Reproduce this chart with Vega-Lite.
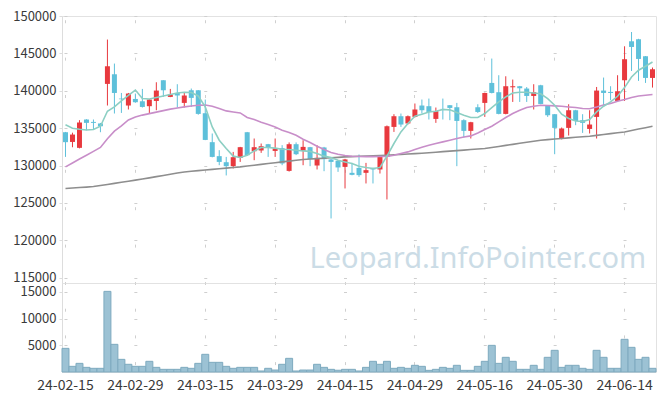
{
"$schema": "https://vega.github.io/schema/vega-lite/v6.json",
"background": "white",
"padding": {"left": 12, "top": 9, "right": 10, "bottom": 5},
"bounds": "flush",
"config": {"view": {"stroke": "#e2e2e2"}, "font": "Noto Sans CJK KR", "axis": {"labelFont": "Noto Sans CJK KR", "labelColor": "#3a3a3a", "gridColor": "#cfcfcf", "domainColor": "#dddddd", "tickColor": "#dddddd", "labelOverlap": false}},
"spacing": 0,
"resolve": {"scale": {"x": "independent", "y": "independent"}},
"data": {"values": [
{"d":"24-02-15","o":134460,"h":134500,"l":131160,"c":133130,"v":4430,"m5":135450,"m20":129830,"m60":126940},
{"d":"24-02-16","o":133160,"h":134400,"l":132450,"c":134150,"v":1060,"m5":135000,"m20":130350,"m60":127000},
{"d":"24-02-19","o":132370,"h":136070,"l":132300,"c":135760,"v":1620,"m5":134850,"m20":130870,"m60":127060},
{"d":"24-02-20","o":136160,"h":136200,"l":134730,"c":135710,"v":870,"m5":134750,"m20":131380,"m60":127120},
{"d":"24-02-21","o":135840,"h":136160,"l":134820,"c":135710,"v":690,"m5":134820,"m20":131900,"m60":127200},
{"d":"24-02-22","o":135630,"h":135700,"l":134460,"c":135260,"v":690,"m5":135260,"m20":132420,"m60":127340},
{"d":"24-02-23","o":140920,"h":146850,"l":138030,"c":143280,"v":15100,"m5":137270,"m20":133600,"m60":127480},
{"d":"24-02-26","o":142210,"h":143640,"l":136960,"c":139710,"v":5180,"m5":137840,"m20":134600,"m60":127620},
{"d":"24-02-27","o":138960,"h":139710,"l":137040,"c":138870,"v":2370,"m5":138640,"m20":135300,"m60":127760},
{"d":"24-02-28","o":138030,"h":139710,"l":137500,"c":139630,"v":1440,"m5":139400,"m20":136100,"m60":127900},
{"d":"24-02-29","o":138910,"h":139630,"l":138400,"c":138470,"v":1060,"m5":140100,"m20":136500,"m60":128050},
{"d":"24-03-04","o":138600,"h":140250,"l":137760,"c":137840,"v":1060,"m5":138960,"m20":136750,"m60":128200},
{"d":"24-03-05","o":137940,"h":138900,"l":136960,"c":138830,"v":2000,"m5":138900,"m20":136950,"m60":128360},
{"d":"24-03-06","o":138640,"h":141140,"l":137400,"c":140030,"v":870,"m5":139100,"m20":137150,"m60":128520},
{"d":"24-03-07","o":141410,"h":141410,"l":139180,"c":140070,"v":500,"m5":139310,"m20":137350,"m60":128680},
{"d":"24-03-08","o":139180,"h":140250,"l":139150,"c":139500,"v":500,"m5":139500,"m20":137550,"m60":128840},
{"d":"24-03-11","o":139710,"h":140880,"l":137760,"c":139370,"v":500,"m5":139710,"m20":137700,"m60":129000},
{"d":"24-03-12","o":138380,"h":139810,"l":137760,"c":139370,"v":870,"m5":139800,"m20":137850,"m60":129150},
{"d":"24-03-13","o":140070,"h":140300,"l":137840,"c":139050,"v":690,"m5":139770,"m20":137960,"m60":129240},
{"d":"24-03-14","o":140070,"h":140100,"l":136800,"c":136910,"v":1620,"m5":139310,"m20":138070,"m60":129320},
{"d":"24-03-15","o":137000,"h":138830,"l":133400,"c":133430,"v":3310,"m5":137840,"m20":138100,"m60":129410},
{"d":"24-03-18","o":133130,"h":134290,"l":131100,"c":131160,"v":1810,"m5":135170,"m20":137940,"m60":129490},
{"d":"24-03-19","o":131260,"h":132060,"l":130050,"c":130490,"v":1810,"m5":133390,"m20":137630,"m60":129580},
{"d":"24-03-20","o":130450,"h":131160,"l":128680,"c":129920,"v":1060,"m5":132290,"m20":137310,"m60":129660},
{"d":"24-03-21","o":129920,"h":131830,"l":129610,"c":131120,"v":690,"m5":131260,"m20":137170,"m60":129750},
{"d":"24-03-22","o":131030,"h":132500,"l":130490,"c":132460,"v":870,"m5":131080,"m20":137040,"m60":129830},
{"d":"24-03-25","o":134460,"h":134500,"l":131300,"c":131390,"v":870,"m5":131390,"m20":136430,"m60":129940},
{"d":"24-03-26","o":131920,"h":133620,"l":130720,"c":132460,"v":870,"m5":131960,"m20":136160,"m60":130050},
{"d":"24-03-27","o":132020,"h":132950,"l":131700,"c":132590,"v":190,"m5":132420,"m20":135800,"m60":130160},
{"d":"24-03-28","o":132860,"h":132900,"l":131160,"c":132420,"v":690,"m5":132420,"m20":135490,"m60":130270},
{"d":"24-03-29","o":131960,"h":133620,"l":131160,"c":132290,"v":370,"m5":132330,"m20":135170,"m60":130380},
{"d":"24-04-01","o":132330,"h":132730,"l":130050,"c":130280,"v":1440,"m5":132190,"m20":134730,"m60":130490},
{"d":"24-04-02","o":129290,"h":133100,"l":129200,"c":132860,"v":2560,"m5":132150,"m20":134420,"m60":130600},
{"d":"24-04-03","o":132860,"h":133100,"l":131400,"c":131520,"v":190,"m5":132060,"m20":134060,"m60":130710},
{"d":"24-04-04","o":131960,"h":133390,"l":130050,"c":132500,"v":370,"m5":131960,"m20":133530,"m60":130815},
{"d":"24-04-05","o":132460,"h":132500,"l":129920,"c":130860,"v":370,"m5":131900,"m20":133090,"m60":130870},
{"d":"24-04-08","o":130010,"h":132730,"l":129480,"c":131030,"v":1440,"m5":131620,"m20":132590,"m60":130930},
{"d":"24-04-09","o":132420,"h":132500,"l":129250,"c":130860,"v":870,"m5":131260,"m20":132150,"m60":130990},
{"d":"24-04-11","o":130820,"h":130900,"l":122930,"c":130490,"v":500,"m5":131080,"m20":131750,"m60":131050},
{"d":"24-04-12","o":130630,"h":130700,"l":129160,"c":129750,"v":330,"m5":130720,"m20":131520,"m60":131100},
{"d":"24-04-15","o":129830,"h":130900,"l":126940,"c":130820,"v":500,"m5":130490,"m20":131350,"m60":131160},
{"d":"24-04-16","o":129030,"h":130360,"l":128700,"c":128760,"v":500,"m5":130280,"m20":131250,"m60":131200},
{"d":"24-04-17","o":129690,"h":131480,"l":128490,"c":128720,"v":190,"m5":129920,"m20":131220,"m60":131240},
{"d":"24-04-18","o":129030,"h":130360,"l":127610,"c":129390,"v":870,"m5":129750,"m20":131200,"m60":131280},
{"d":"24-04-19","o":129690,"h":129700,"l":127610,"c":129480,"v":2000,"m5":129610,"m20":131200,"m60":131320},
{"d":"24-04-22","o":129480,"h":131390,"l":128940,"c":131260,"v":1440,"m5":129750,"m20":131210,"m60":131350},
{"d":"24-04-23","o":131160,"h":135360,"l":125470,"c":135260,"v":2000,"m5":131260,"m20":131230,"m60":131390},
{"d":"24-04-24","o":135170,"h":136870,"l":134500,"c":136600,"v":690,"m5":132950,"m20":131390,"m60":131440},
{"d":"24-04-25","o":136600,"h":136960,"l":135170,"c":135490,"v":870,"m5":134500,"m20":131620,"m60":131490},
{"d":"24-04-26","o":135630,"h":136700,"l":135500,"c":136600,"v":690,"m5":135630,"m20":131830,"m60":131550},
{"d":"24-04-29","o":136510,"h":138300,"l":136430,"c":137500,"v":1250,"m5":136600,"m20":132150,"m60":131600},
{"d":"24-04-30","o":138030,"h":138830,"l":136960,"c":137400,"v":1060,"m5":136850,"m20":132460,"m60":131650},
{"d":"24-05-02","o":137940,"h":138960,"l":136160,"c":137170,"v":310,"m5":137170,"m20":132730,"m60":131720},
{"d":"24-05-03","o":136240,"h":137760,"l":135710,"c":137270,"v":500,"m5":137270,"m20":132950,"m60":131790},
{"d":"24-05-07","o":137580,"h":138960,"l":136160,"c":137500,"v":870,"m5":137500,"m20":133170,"m60":131860},
{"d":"24-05-08","o":138070,"h":138100,"l":136070,"c":137710,"v":690,"m5":137450,"m20":133390,"m60":131930},
{"d":"24-05-09","o":137800,"h":138380,"l":129920,"c":135970,"v":1250,"m5":137090,"m20":133620,"m60":132000},
{"d":"24-05-10","o":136070,"h":136200,"l":133750,"c":134640,"v":310,"m5":136730,"m20":133830,"m60":132070},
{"d":"24-05-13","o":134640,"h":135850,"l":133620,"c":135800,"v":310,"m5":136430,"m20":133970,"m60":132140},
{"d":"24-05-14","o":137800,"h":138200,"l":137040,"c":137170,"v":1060,"m5":136430,"m20":134370,"m60":132210},
{"d":"24-05-16","o":138380,"h":139750,"l":136510,"c":139710,"v":2000,"m5":136960,"m20":134820,"m60":132285},
{"d":"24-05-17","o":141050,"h":144310,"l":139650,"c":139710,"v":4990,"m5":137760,"m20":135260,"m60":132420},
{"d":"24-05-20","o":139810,"h":142080,"l":136850,"c":136910,"v":1620,"m5":138510,"m20":135840,"m60":132560},
{"d":"24-05-21","o":136910,"h":141940,"l":136850,"c":140610,"v":2750,"m5":139180,"m20":136430,"m60":132700},
{"d":"24-05-22","o":140470,"h":141500,"l":138510,"c":140610,"v":2000,"m5":139710,"m20":136960,"m60":132840},
{"d":"24-05-23","o":140610,"h":140650,"l":138510,"c":140340,"v":500,"m5":139800,"m20":137400,"m60":132980},
{"d":"24-05-24","o":140300,"h":140500,"l":138510,"c":139310,"v":500,"m5":139800,"m20":137760,"m60":133120},
{"d":"24-05-27","o":139310,"h":140880,"l":137500,"c":139810,"v":1250,"m5":139710,"m20":137940,"m60":133250},
{"d":"24-05-28","o":140740,"h":140800,"l":138200,"c":138240,"v":500,"m5":139600,"m20":138070,"m60":133390},
{"d":"24-05-29","o":138070,"h":138100,"l":136510,"c":136730,"v":2750,"m5":138960,"m20":138030,"m60":133470},
{"d":"24-05-30","o":136870,"h":136900,"l":131520,"c":135040,"v":4060,"m5":138070,"m20":137980,"m60":133550},
{"d":"24-05-31","o":133570,"h":135090,"l":133500,"c":134960,"v":870,"m5":136870,"m20":137940,"m60":133620},
{"d":"24-06-03","o":135040,"h":138200,"l":134020,"c":137400,"v":1250,"m5":136290,"m20":137840,"m60":133700},
{"d":"24-06-04","o":137400,"h":137450,"l":135400,"c":135970,"v":1250,"m5":135970,"m20":137760,"m60":133780},
{"d":"24-06-05","o":136070,"h":136870,"l":134370,"c":135710,"v":690,"m5":135890,"m20":137630,"m60":133850},
{"d":"24-06-07","o":134900,"h":137400,"l":134290,"c":135490,"v":500,"m5":136160,"m20":137600,"m60":133930},
{"d":"24-06-10","o":136510,"h":140510,"l":133620,"c":140030,"v":4060,"m5":137170,"m20":137840,"m60":134040},
{"d":"24-06-11","o":140030,"h":141770,"l":138070,"c":139710,"v":2750,"m5":137940,"m20":138110,"m60":134160},
{"d":"24-06-12","o":139850,"h":140610,"l":138740,"c":139710,"v":690,"m5":138510,"m20":138300,"m60":134270},
{"d":"24-06-13","o":138640,"h":142080,"l":138600,"c":139940,"v":690,"m5":139270,"m20":138600,"m60":134390},
{"d":"24-06-14","o":141410,"h":145950,"l":138640,"c":144220,"v":6120,"m5":140430,"m20":138830,"m60":134500},
{"d":"24-06-17","o":146620,"h":147860,"l":142650,"c":145860,"v":4620,"m5":141850,"m20":139100,"m60":134690},
{"d":"24-06-18","o":146890,"h":146950,"l":141320,"c":144260,"v":2370,"m5":142750,"m20":139310,"m60":134880},
{"d":"24-06-19","o":144620,"h":144650,"l":141050,"c":141720,"v":2750,"m5":143280,"m20":139410,"m60":135070},
{"d":"24-06-20","o":141720,"h":143110,"l":140430,"c":142880,"v":690,"m5":143850,"m20":139500,"m60":135260}
]},
"vconcat": [
{
"width": 594, "height": 267,
"encoding": {
  "x": {"field": "d", "type": "ordinal", "title": null,
    "scale": {"paddingInner": 0, "paddingOuter": 0},
    "axis": {"values": ["24-02-15","24-02-29","24-03-15","24-03-29","24-04-15","24-04-29","24-05-16","24-05-30","24-06-14"],
      "labels": false, "ticks": false, "domain": false, "grid": true, "gridDash": [3, 34.395], "gridDashOffset": 33.66}},
  "y": {"type": "quantitative", "title": null,
    "scale": {"domain": [114300, 150000], "nice": false, "zero": false},
    "axis": {"values": [115000,120000,125000,130000,135000,140000,145000,150000], "format": "d", "labelOverlap": false, "grid": true, "gridDash": [3, 66.88], "gridDashOffset": 67.89,
      "tickSize": 3, "labelPadding": 3, "labelFontSize": 13}}
},
"layer": [
  {"data": {"values": [{"t": "Leopard.InfoPointer.com"}]},
   "mark": {"type": "text", "font": "Noto Sans", "fontSize": 29, "color": "#cbdce6", "align": "center", "baseline": "alphabetic"},
   "encoding": {"x": {"datum": "24-05-14", "type": "ordinal"}, "y": {"datum": 116250, "type": "quantitative"}, "text": {"field": "t"}}},
  {"mark": {"type": "rule", "strokeWidth": 1},
   "encoding": {
     "y": {"field": "l"},
     "y2": {"field": "h"},
     "color": {"condition": {"test": "datum.c >= datum.o", "value": "#e8393e"}, "value": "#5ec0da"}}},
  {"mark": {"type": "bar", "size": 5},
   "encoding": {
     "y": {"field": "o"},
     "y2": {"field": "c"},
     "color": {"condition": {"test": "datum.c >= datum.o", "value": "#e8393e"}, "value": "#5ec0da"}}},
  {"mark": {"type": "line", "color": "#8e8e8e", "strokeWidth": 1.6},
   "encoding": {"y": {"field": "m60"}}},
  {"mark": {"type": "line", "color": "#c88ec9", "strokeWidth": 1.6},
   "encoding": {"y": {"field": "m20"}}},
  {"mark": {"type": "line", "color": "#8ccfc3", "strokeWidth": 1.6},
   "encoding": {"y": {"field": "m5"}}}
]
},
{
"width": 594, "height": 89,
"mark": {"type": "bar", "fill": "#9cc2d4", "stroke": "#7eaabf", "strokeWidth": 1},
"encoding": {
  "x": {"field": "d", "type": "ordinal", "title": null,
    "scale": {"paddingInner": 0, "paddingOuter": 0},
    "axis": {"values": ["24-02-15","24-02-29","24-03-15","24-03-29","24-04-15","24-04-29","24-05-16","24-05-30","24-06-14"],
      "labelAngle": 0, "ticks": false, "domain": false, "labelPadding": 6, "labelFontSize": 14,
      "grid": true, "gridDash": [3, 23.7], "gridDashOffset": 1.5}},
  "y": {"field": "v", "type": "quantitative", "title": null,
    "scale": {"domain": [0, 16667], "nice": false},
    "axis": {"values": [5000, 10000, 15000], "format": "d", "labelOverlap": false, "grid": true, "gridDash": [3, 66.88], "gridDashOffset": 67.89,
      "tickSize": 3, "labelPadding": 3, "labelFontSize": 13}}
}
}
]
}
